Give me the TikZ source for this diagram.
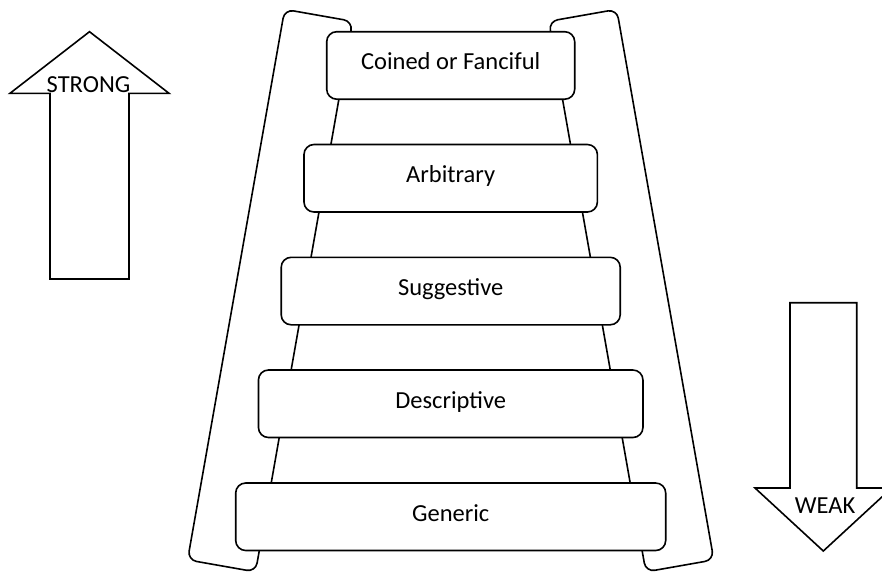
\documentclass[tikz,border=0pt]{standalone}
\usepackage{fontspec}
\setmainfont{Carlito}
\begin{document}
\begin{tikzpicture}[x=1pt,y=-1pt, line width=1.6pt,
  rail/.style={draw, rounded corners=9pt, minimum width=69pt, minimum height=559pt, inner sep=0pt},
  rung/.style={draw, fill=white, rounded corners=10pt, minimum height=67.5pt, inner sep=0pt,
    text height=16pt, text depth=7pt, font=\fontsize{24.5}{29}\selectfont},
  arrowlabel/.style={font=\fontsize{24.5}{29}\selectfont, inner sep=0pt, anchor=base},
  bigarrow/.style={draw, line join=miter}]
\useasboundingbox (0,0) rectangle (882,571);
\clip (0,0) rectangle (882,571);
% ladder rails
\node[rail, rotate=-10] (lrail) at (270.1,290.6) {};
\node[rail, rotate=10] (rrail) at (631.3,290.6) {};
% rungs
\node[rung, minimum width=248pt] (r1) at (450.7,65.45) {Coined or Fanciful};
\node[rung, minimum width=293.4pt] (r2) at (450.7,178.25) {Arbitrary};
\node[rung, minimum width=339pt] (r3) at (450.7,291.05) {Suggestive};
\node[rung, minimum width=384.5pt] (r4) at (450.7,403.75) {Descriptive};
\node[rung, minimum width=430pt] (r5) at (450.7,516.75) {Generic};
% strong arrow
\draw[bigarrow] (50,279) -- (50,93.3) -- (10,93.3) -- (89.5,31.7) -- (169,93.3) -- (129,93.3) -- (129,279) -- cycle;
\node[arrowlabel] (strong) at (88.5,92.5) {STRONG};
% weak arrow
\draw[bigarrow] (790,302.7) -- (856.7,302.7) -- (856.7,488) -- (891.6,488) -- (823.3,551) -- (755,488) -- (790,488) -- cycle;
\node[arrowlabel] (weak) at (825,513.3) {WEAK};
\end{tikzpicture}
\end{document}
